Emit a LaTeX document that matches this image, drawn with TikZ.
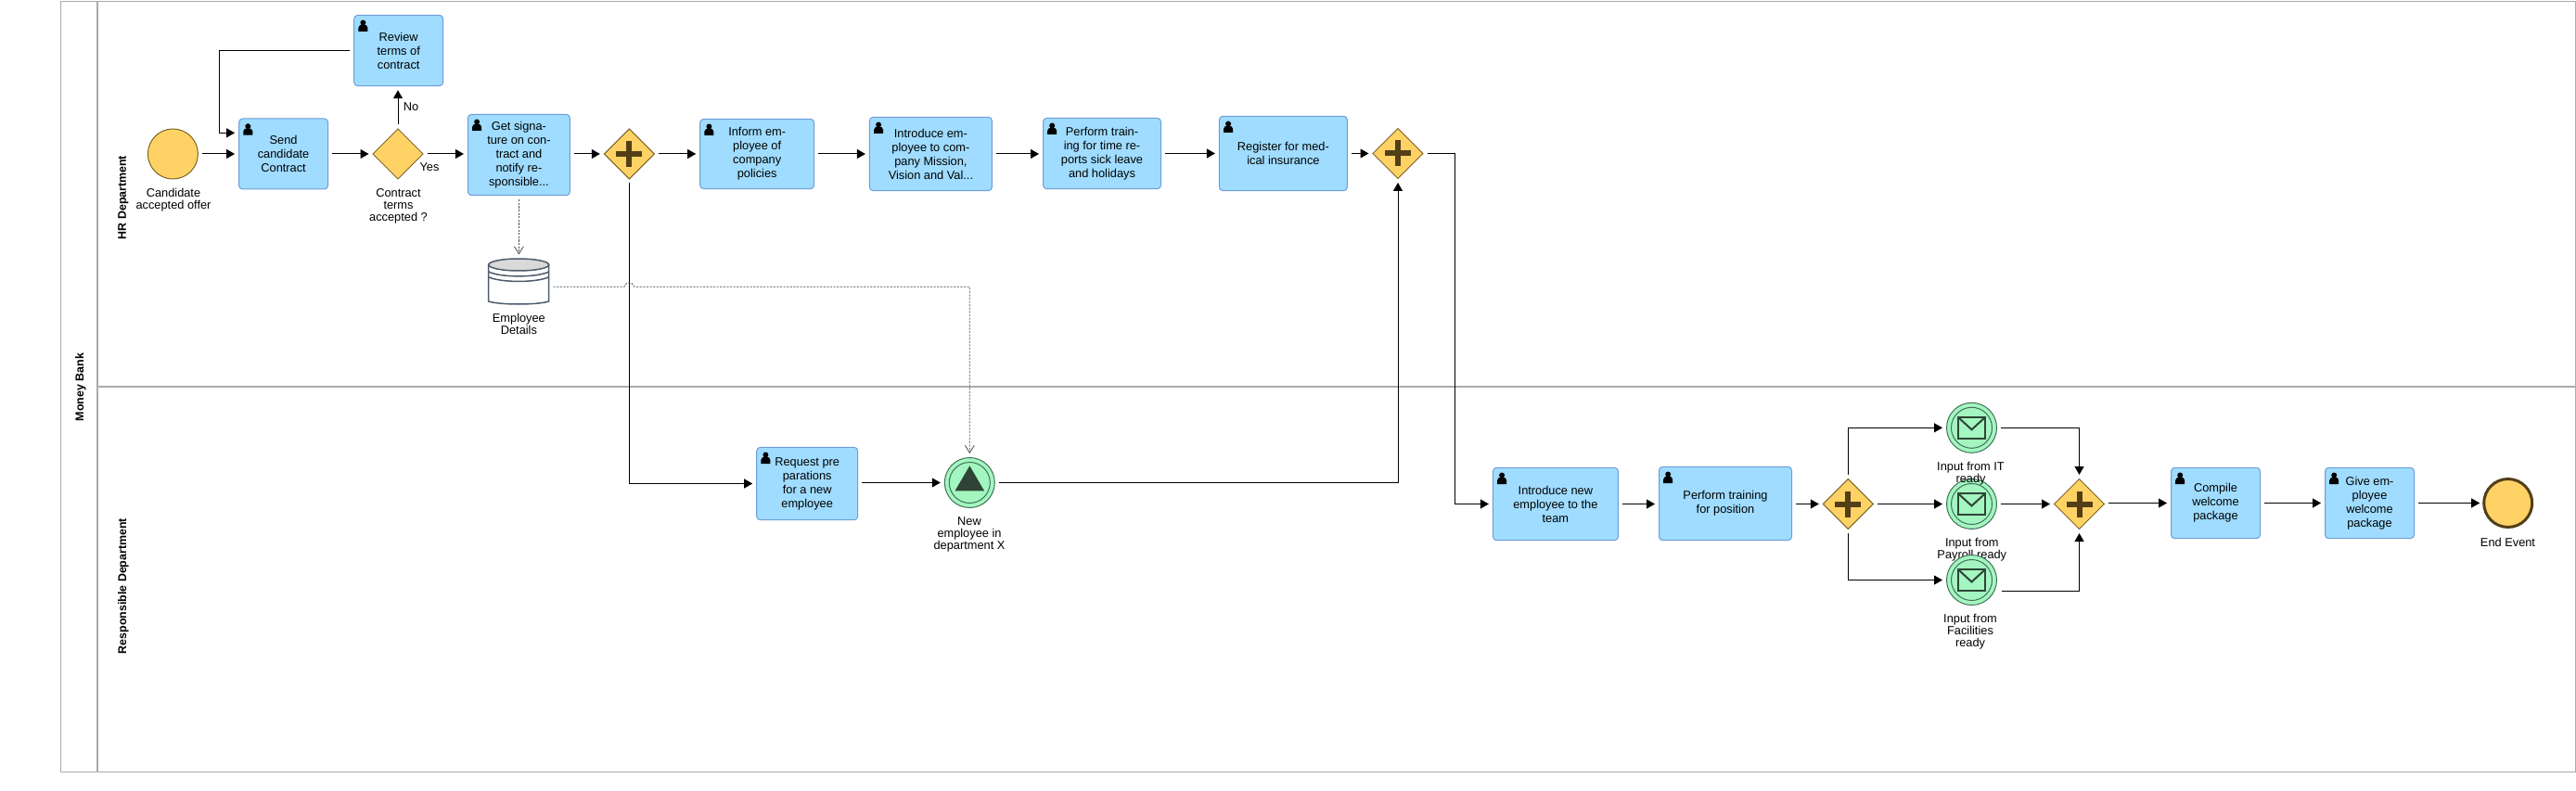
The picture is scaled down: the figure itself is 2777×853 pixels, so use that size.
\documentclass[tikz,border=0pt]{standalone}
\usepackage{fontspec}
\setmainfont{Liberation Sans}
\usetikzlibrary{arrows.meta,shapes.geometric,calc}
\definecolor{taskfill}{HTML}{9FDCFF}
\definecolor{taskline}{HTML}{6E9DD6}
\definecolor{gatefill}{HTML}{FFD265}
\definecolor{gateline}{HTML}{7D6426}
\definecolor{plusdark}{HTML}{523F18}
\definecolor{evgreen}{HTML}{A3F6BF}
\definecolor{evline}{HTML}{41705A}
\definecolor{icondark}{HTML}{2F4436}
\definecolor{frameline}{HTML}{ABABAB}
\definecolor{storeline}{HTML}{4E5B6B}
\definecolor{storetop}{HTML}{D9D9D9}
\tikzset{
  taskbox/.style={rectangle,rounded corners=4pt,draw=taskline,fill=taskfill,line width=1pt,inner sep=0pt,outer sep=0pt,align=center,font=\fontsize{12.8pt}{15pt}\selectfont},
  gate/.style={diamond,aspect=1,draw=gateline,fill=gatefill,line width=1pt,inner sep=0pt,outer sep=0pt,minimum width=54pt,minimum height=54pt},
  startev/.style={circle,draw=gateline,fill=gatefill,line width=1pt,inner sep=0pt,outer sep=0pt,minimum size=54pt},
  endev/.style={circle,draw=plusdark,fill=gatefill,line width=3pt,inner sep=0pt,outer sep=0pt,minimum size=52pt},
  catchev/.style={circle,draw=evline,fill=evgreen,line width=1pt,inner sep=0pt,outer sep=0pt,minimum size=54pt},
  lbl/.style={align=center,inner sep=0pt,font=\fontsize{12.8pt}{13pt}\selectfont},
  lanetitle/.style={rotate=90,inner sep=0pt,font=\fontsize{12.4pt}{14pt}\selectfont\bfseries},
  flow/.style={draw=black,line width=1pt,-{Triangle[length=9pt,width=10pt]},shorten >=4.5pt,shorten <=4.5pt},
  assoc/.style={draw=black!70,line width=.8pt,dash pattern=on 2.2pt off 1.4pt,-{Straight Barb[length=8pt,width=10pt]},shorten >=4.5pt,shorten <=4.5pt},
  storeshape/.style={rectangle,inner sep=0pt,outer sep=0pt,minimum width=65pt,minimum height=50pt},
  framing/.style={draw=frameline,line width=1.2pt}
}
\begin{document}
\begin{tikzpicture}[x=1pt,y=-1pt]
\useasboundingbox (0,0) rectangle (2777,853);
% pool and lanes
\draw[framing] (65.6,1.5) rectangle (2776.3,832.5);
\draw[framing] (105,1.5) -- (105,832.5);
\draw[framing] (105,417) -- (2776.3,417);
\node[lanetitle] (pool) at (87,417.5) {Money Bank};
\node[lanetitle] (hr) at (133,213) {HR Department};
\node[lanetitle] (resp) at (133,632) {Responsible Department};
% events and tasks, top row
\node[startev] (start) at (186.4,166) {};
\node[taskbox,minimum width=96pt,minimum height=76pt] (send) at (305.6,166) {Send\\candidate\\Contract};
\node[taskbox,minimum width=96pt,minimum height=76.4pt] (review) at (429.7,54.5) {Review\\terms of\\contract};
\node[gate] (gw) at (429,166) {};
\node[taskbox,minimum width=110pt,minimum height=87.4pt] (getsig) at (559.4,167) {Get signa-\\ture on con-\\tract and\\notify re-\\sponsible...};
\node[gate] (p1) at (678.3,166) {};
\node[taskbox,minimum width=123pt,minimum height=75.4pt] (inform) at (816.2,166) {Inform em-\\ployee of\\company\\policies};
\node[taskbox,minimum width=132pt,minimum height=79.4pt] (intro) at (1003.4,166) {Introduce em-\\ployee to com-\\pany Mission,\\Vision and Val...};
\node[taskbox,minimum width=127pt,minimum height=76.4pt] (timerep) at (1188,165.5) {Perform train-\\ing for time re-\\ports sick leave\\and holidays};
\node[taskbox,minimum width=138pt,minimum height=80.4pt] (medical) at (1383.4,165.5) {Register for med-\\ical insurance};
\node[gate] (p2) at (1507,165.5) {};
% second lane
\node[taskbox,minimum width=109pt,minimum height=78.4pt] (request) at (870.2,521.5) {Request pre\\parations\\for a new\\employee};
\node[catchev] (newemp) at (1045.3,520.5) {};
\node[taskbox,minimum width=135pt,minimum height=78.4pt] (intronew) at (1676.9,543.5) {Introduce new\\employee to the\\team};
\node[taskbox,minimum width=143pt,minimum height=79.4pt] (training) at (1860,543) {Perform training\\for position};
\node[gate] (p3) at (1992.3,543.5) {};
\node[catchev] (itev) at (2125.5,461.3) {};
\node[lbl] (paylbl) at (2125.8,592.3) {Input from\\Payroll ready};
\node[catchev] (payev) at (2125.5,543.5) {};
\node[lbl] (itlbl) at (2124.5,510.5) {Input from IT\\ready};
\node[catchev] (facev) at (2125.5,625.5) {};
\node[gate] (p4) at (2241.5,543.5) {};
\node[taskbox,minimum width=96pt,minimum height=76.4pt] (compile) at (2388.5,542.5) {Compile\\welcome\\package};
\node[taskbox,minimum width=96pt,minimum height=76.4pt] (give) at (2554.5,542.5) {Give em-\\ployee\\welcome\\package};
\node[endev] (endevt) at (2703.7,542.5) {};
% data store
\node[storeshape] (store) at (559.2,304) {};
\begin{scope}[shift={(store.center)},draw=storeline,line width=1.5pt]
  \draw[fill=white] (-32.5,-18.5) -- (-32.5,21) .. controls (-20,25) and (20,25) .. (32.5,21) -- (32.5,-18.5);
  \draw (-32.5,-11) .. controls (-20,-4.5) and (20,-4.5) .. (32.5,-11);
  \draw (-32.5,-5.3) .. controls (-20,1) and (20,1) .. (32.5,-5.3);
  \draw[fill=storetop] (0,-18.5) ellipse [x radius=32.5,y radius=6.5];
\end{scope}
% inner marks
\foreach \n in {itev,payev,facev,newemp}{
  \draw[evline,line width=1pt] (\n) circle [radius=22];
}
\foreach \n in {itev,payev,facev}{
  \begin{scope}[shift={(\n.center)},draw=icondark,line width=2pt]
    \draw (-14.5,-11.3) rectangle (14.5,11.3);
    \draw (-14.5,-11.3) -- (0,2) -- (14.5,-11.3);
  \end{scope}
}
\fill[icondark] ($(newemp.center)+(0,-18.2)$) -- ($(newemp.center)+(-15.8,8.8)$) -- ($(newemp.center)+(15.8,8.8)$) -- cycle;
\foreach \n in {p1,p2,p3,p4}{
  \fill[plusdark] ($(\n.center)+(-14,-3)$) rectangle ($(\n.center)+(14,3)$);
  \fill[plusdark] ($(\n.center)+(-3,-14)$) rectangle ($(\n.center)+(3,14)$);
}
\foreach \n in {send,review,getsig,inform,intro,timerep,medical,request,intronew,training,compile,give}{
  \begin{scope}[shift={(\n.north west)}]
    \fill (9.7,8.2) circle [radius=3];
    \fill (4.7,17.7) -- (4.7,13.5) .. controls (4.7,11) and (7,10.4) .. (9.7,10.4) .. controls (12.4,10.4) and (14.7,11) .. (14.7,13.5) -- (14.7,17.7) -- cycle;
  \end{scope}
}
% labels
\node[lbl] (startlbl) at (187,215.3) {Candidate\\accepted offer};
\node[lbl] (gwlbl) at (429.5,222) {Contract\\terms\\accepted ?};
\node[lbl] (storelbl) at (559.4,349.2) {Employee\\Details};
\node[lbl] (newlbl) at (1045,576) {New\\employee in\\department X};
\node[lbl] (faclbl) at (2124,680.7) {Input from\\Facilities\\ready};
\node[lbl] (endlbl) at (2703.5,584.7) {End Event};
\node[lbl] (yeslbl) at (463,180.5) {Yes};
\node[lbl] (nolbl) at (443,114.7) {No};
% sequence flows
\draw[flow] (start.east) -- (start.east -| send.west);
\draw[flow] (send.east) -- (send.east -| gw.west);
\draw[flow] (gw.north) -- (gw.north |- review.south);
\coordinate (sendin) at (257.6,143.3);
\draw[flow] (review.west) -| ($(sendin)+(-21,0)$) -- (sendin);
\draw[flow] (gw.east) -- (gw.east -| getsig.west);
\draw[flow] (p1.west -| getsig.east) -- (p1.west);
\draw[flow] (p1.east) -- (p1.east -| inform.west);
\draw[flow] (inform.east) -- (inform.east -| intro.west);
\draw[flow] (intro.east) -- (intro.east -| timerep.west);
\draw[flow] (timerep.east) -- (medical.west);
\draw[flow] (medical.east) -- (p2.west);
\draw[flow] (p1.south) |- (request.west);
\draw[flow] (newemp.west -| request.east) -- (newemp.west);
\draw[flow] (newemp.east) -| (p2.south);
\draw[flow] (p2.east) -- ++(34.4,0) |- (intronew.west);
\draw[flow] (intronew.east) -- (intronew.east -| training.west);
\draw[flow] (p3.west -| training.east) -- (p3.west);
\draw[flow] (p3.north) |- (itev.west);
\draw[flow] (p3.east) -- (payev.west);
\draw[flow] (p3.south) |- (facev.west);
\draw[flow] (itev.east) -| (p4.north);
\draw[flow] (payev.east) -- (p4.west);
\coordinate (facout) at (2153.3,637.3);
\draw[flow] (facout) -| (p4.south);
\draw[flow] (compile.west -| p4.east) -- (compile.west);
\draw[flow] (compile.east) -- (give.west);
\draw[flow] (give.east) -- (endevt.west);
% associations
\draw[assoc] (getsig.south) -- (getsig.south |- store.north);
\coordinate (storeout) at (592,309.3);
\coordinate (jumpa) at (672.8,309.3);
\coordinate (jumpb) at (683.8,309.3);
\draw[assoc] (storeout) -- (jumpa) .. controls ($(jumpa)+(2,-6)$) and ($(jumpb)+(-2,-6)$) .. (jumpb) -| (newemp.north);
\end{tikzpicture}
\end{document}
